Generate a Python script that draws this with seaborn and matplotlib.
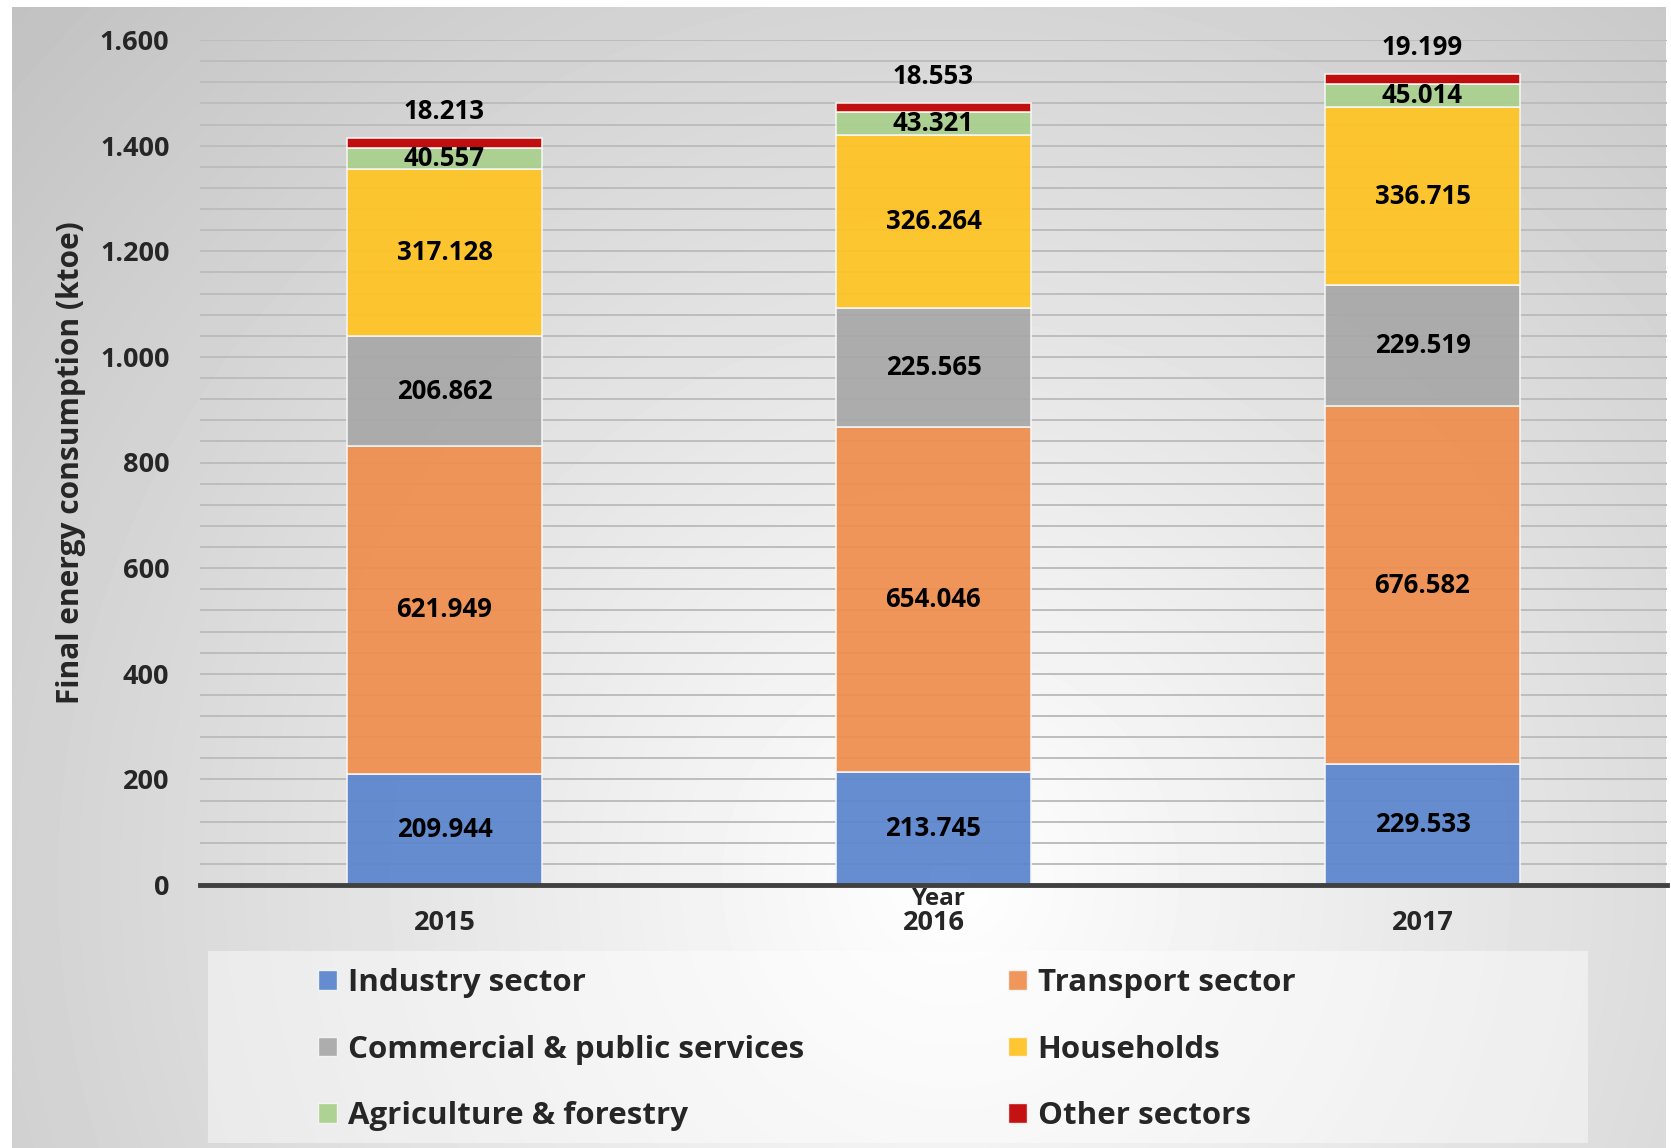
import numpy as np
import pandas as pd
import matplotlib
matplotlib.use('Agg')
import matplotlib.pyplot as plt
import seaborn as sns
from matplotlib.ticker import FuncFormatter, MultipleLocator
from matplotlib.patches import Rectangle

sns.set_style('white')
plt.rcParams['font.family'] = ['Open Sans', 'DejaVu Sans']
plt.rcParams['font.weight'] = 'bold'

# data (ktoe)
years = ['2015', '2016', '2017']
sectors = ['Industry sector', 'Transport sector', 'Commercial & public services',
           'Households', 'Agriculture & forestry', 'Other sectors']
industry = [209.944, 213.745, 229.533]
transport = [621.949, 654.046, 676.582]
commercial = [206.862, 225.565, 229.519]
households = [317.128, 326.264, 336.715]
agriculture = [40.557, 43.321, 45.014]
other = [18.213, 18.553, 19.199]
colors = ['#5A85CD', '#F08E4E', '#A8A8A8', '#FFC422', '#A8D08C', '#C00000']

layers = [industry, transport, commercial, households, agriculture, other]

W, H = 1671, 1148
fig = plt.figure(figsize=(W / 100, H / 100), dpi=100)

# radial grey background
bg = fig.add_axes([12 / W, 0, (1666 - 12) / W, (H - 7) / H])
yy, xx = np.mgrid[7:H, 12:1666]
d = np.sqrt((xx - 950.0) ** 2 + (yy - 880.0) ** 2)
shade = np.clip(255 - 0.048 * d, 185, 255) / 255.0
bg.imshow(shade, cmap='gray', vmin=0, vmax=1, aspect='auto', interpolation='bilinear')
bg.set_axis_off()

# legend panel
fig.patches.append(Rectangle((208 / W, 5 / H), (1588 - 208) / W, (1143 - 951) / H,
                             transform=fig.transFigure, facecolor='white', alpha=0.45,
                             edgecolor='none', zorder=1))

ax = fig.add_axes([200 / W, 263 / H, 1467 / W, 845 / H])
ax.patch.set_alpha(0)

df = pd.DataFrame({'Year': years})
bottom = np.zeros(len(years))
for name, vals, col in zip(sectors, layers, colors):
    df[name] = vals
    sns.barplot(data=df, x='Year', y=name, color=col, width=0.4, bottom=bottom,
                alpha=0.93, saturation=1, edgecolor='#f6f6f6', linewidth=1.2, ax=ax, zorder=3)
    for i, v in enumerate(vals):
        if name == 'Other sectors':
            ax.annotate(f'{v:.3f}', (i, bottom[i] + v), xytext=(0, 19),
                        textcoords='offset points', ha='center', va='center',
                        fontsize=18.5, fontweight='bold', color='black', zorder=5)
        else:
            ax.text(i, bottom[i] + v / 2, f'{v:.3f}', ha='center', va='center',
                    fontsize=18.5, fontweight='bold', color='black', zorder=5)
    bottom = bottom + np.array(vals)

ax.set_xlim(-0.5, 2.5)
ax.set_ylim(0, 1600)
ax.yaxis.set_major_locator(MultipleLocator(200))
ax.yaxis.set_minor_locator(MultipleLocator(40))
ax.yaxis.set_major_formatter(FuncFormatter(lambda v, p: f'{int(v):,}'.replace(',', '.')))
ax.grid(axis='y', which='both', color='#bdbdbd', linewidth=1.4)
ax.grid(axis='x', which='both', visible=False)
ax.set_axisbelow(True)

ax.set_xticks([0, 1, 2])
ax.set_xticklabels(years)
ax.set_xticks([-0.5, 0.5, 1.5, 2.5], minor=True)
ax.tick_params(axis='x', which='major', length=0, pad=18, labelsize=19.5)
ax.tick_params(axis='x', which='minor', length=8, width=3, color='#404040', direction='out')
ax.tick_params(axis='y', which='both', length=0, pad=22, labelsize=19.5)
for lab in ax.get_xticklabels() + ax.get_yticklabels():
    lab.set_fontweight('bold')

for s in ['left', 'right', 'top']:
    ax.spines[s].set_visible(False)
ax.spines['bottom'].set_color('#404040')
ax.spines['bottom'].set_linewidth(3.5)
ax.spines['bottom'].set_zorder(4)

ax.set_xlabel('Year', fontsize=17.5, fontweight='bold')
ax.xaxis.set_label_coords(0.504, -0.002)
ax.set_ylabel('Final energy consumption (ktoe)', fontsize=21.5, fontweight='bold')
ax.yaxis.set_label_coords(-0.078, 0.5)

# legend, two columns placed separately
def handle(c):
    return Rectangle((0, 0), 1, 1, facecolor=c, alpha=0.93, edgecolor='#f6f6f6')

leg_kw = dict(loc='upper left', frameon=False, borderpad=0, borderaxespad=0,
              handlelength=0.6, handleheight=0.6, handletextpad=0.35, labelspacing=1.17,
              prop={'size': 22.5, 'weight': 'bold'})
left_idx = [0, 2, 4]
right_idx = [1, 3, 5]
fig.legend([handle(colors[i]) for i in left_idx], [sectors[i] for i in left_idx],
           bbox_to_anchor=(318 / W, 1 - 968 / H), **leg_kw)
fig.legend([handle(colors[i]) for i in right_idx], [sectors[i] for i in right_idx],
           bbox_to_anchor=(1008 / W, 1 - 968 / H), **leg_kw)

fig.savefig('out.png', dpi=100)
